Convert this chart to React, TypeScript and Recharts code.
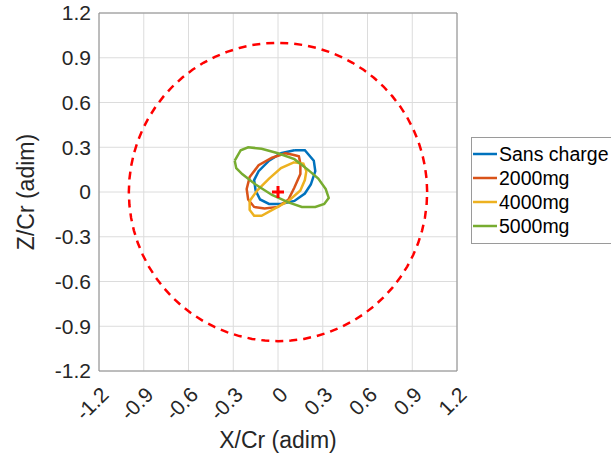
import React from 'react'
import {
  ScatterChart,
  Scatter,
  XAxis,
  YAxis,
  CartesianGrid,
  ReferenceLine,
} from 'recharts'

const FONT = '"Liberation Sans", Arial, Helvetica, sans-serif'

// axes ticks
const xTicks = [-1.2, -0.9, -0.6, -0.3, 0, 0.3, 0.6, 0.9, 1.2]
const yTicks = [-1.2, -0.9, -0.6, -0.3, 0, 0.3, 0.6, 0.9, 1.2]

// orbits (x/Cr, z/Cr), closed loops
const sansCharge = [
  [0.11, 0.28], [0.18, 0.28], [0.24, 0.21], [0.25, 0.14], [0.22, 0.05],
  [0.18, -0.01], [0.11, -0.06], [0.02, -0.08], [-0.06, -0.08], [-0.12, -0.05],
  [-0.15, 0.01], [-0.16, 0.08], [-0.13, 0.14], [-0.06, 0.21], [0.02, 0.26],
  [0.11, 0.28],
]
const mg2000 = [
  [0.1, 0.25], [0.14, 0.24], [0.15, 0.19], [0.15, 0.12], [0.11, 0.03],
  [0.07, -0.05], [0.0, -0.1], [-0.09, -0.11], [-0.16, -0.1], [-0.2, -0.05],
  [-0.21, 0.02], [-0.19, 0.1], [-0.13, 0.18], [-0.04, 0.23], [0.05, 0.26],
  [0.1, 0.25],
]
const mg4000 = [
  [0.11, 0.2], [0.17, 0.19], [0.19, 0.14], [0.18, 0.08], [0.15, 0.01],
  [0.07, -0.06], [-0.02, -0.11], [-0.11, -0.16], [-0.16, -0.16], [-0.19, -0.12],
  [-0.19, -0.06], [-0.14, 0.01], [-0.06, 0.09], [0.02, 0.16], [0.11, 0.2],
]
const mg5000 = [
  [-0.29, 0.21], [-0.25, 0.28], [-0.2, 0.3], [-0.11, 0.29], [0.0, 0.26],
  [0.11, 0.22], [0.2, 0.15], [0.27, 0.09], [0.32, 0.02], [0.34, -0.04],
  [0.31, -0.08], [0.25, -0.1], [0.16, -0.1], [0.07, -0.07], [-0.04, -0.02],
  [-0.15, 0.05], [-0.24, 0.12], [-0.28, 0.16], [-0.29, 0.21],
]

// unit circle (r = Cr) and centre
const circleRadius = 1
const circleAngles = Array.from({ length: 73 }, (_, i) => i * 5)
const centre = [[0, 0]]

const toPts = (arr: number[][]) => arr.map(([x, y]) => ({ x, y }))
const circlePts = circleAngles.map((a) => ({
  x: circleRadius * Math.cos((a * Math.PI) / 180),
  y: circleRadius * Math.sin((a * Math.PI) / 180),
}))

const series = [
  { name: 'Sans charge', color: '#0072BD', data: sansCharge },
  { name: '2000mg', color: '#D95319', data: mg2000 },
  { name: '4000mg', color: '#EDB120', data: mg4000 },
  { name: '5000mg', color: '#77AC30', data: mg5000 },
]

const noDot = () => <g />

const XTick = (props: any) => {
  const { x, y, payload } = props
  return (
    <text
      x={0}
      y={0}
      transform={`translate(${x + 11},${y + 17}) rotate(-45)`}
      textAnchor='end'
      fontSize={21}
      fontFamily={FONT}
      fill='#262626'
    >
      {payload.value}
    </text>
  )
}

const Plus = (props: any) => {
  const { cx, cy } = props
  return (
    <g stroke='#FF0000' strokeWidth={3}>
      <line x1={cx - 6} y1={cy} x2={cx + 6} y2={cy} />
      <line x1={cx} y1={cy - 6} x2={cx} y2={cy + 6} />
    </g>
  )
}

export default function App() {
  return (
    <div
      style={{
        position: 'absolute',
        left: 0,
        top: 0,
        width: 611,
        height: 460,
        overflow: 'hidden',
        background: '#fff',
      }}
    >
      <ScatterChart
        width={611}
        height={460}
        margin={{ top: 13, right: 154, bottom: 0, left: 0 }}
      >
        <CartesianGrid stroke='#dcdcdc' strokeWidth={1} />
        <XAxis
          type='number'
          dataKey='x'
          domain={[-1.2, 1.2]}
          ticks={xTicks}
          allowDataOverflow
          height={89}
          stroke='#8c8c8c'
          tickLine={false}
          tick={<XTick />}
          interval={0}
          label={{
            content: () => (
              <text
                x={278}
                y={448}
                textAnchor='middle'
                fontSize={23}
                fontFamily={FONT}
                fill='#262626'
              >
                X/Cr (adim)
              </text>
            ),
          }}
        />
        <YAxis
          type='number'
          dataKey='y'
          domain={[-1.2, 1.2]}
          ticks={yTicks}
          allowDataOverflow
          width={99}
          stroke='#8c8c8c'
          tickLine={false}
          interval={0}
          tick={{ fontSize: 21, fill: '#262626', fontFamily: FONT }}
          label={{
            content: () => (
              <text
                x={0}
                y={0}
                transform='translate(34,192) rotate(-90)'
                textAnchor='middle'
                fontSize={23}
                fontFamily={FONT}
                fill='#262626'
              >
                Z/Cr (adim)
              </text>
            ),
          }}
        />
        <ReferenceLine y={1.2} stroke='#8c8c8c' />
        <ReferenceLine x={1.2} stroke='#8c8c8c' />
        {series.map((s) => (
          <Scatter
            key={s.name}
            name={s.name}
            data={toPts(s.data)}
            fill={s.color}
            line={{ stroke: s.color, strokeWidth: 2.5 }}
            lineType='joint'
            shape={noDot}
            isAnimationActive={false}
          />
        ))}
        <Scatter
          data={circlePts}
          fill='#FF0000'
          line={{ stroke: '#FF0000', strokeWidth: 2.5, strokeDasharray: '8 6' }}
          lineType='joint'
          shape={noDot}
          isAnimationActive={false}
        />
        <Scatter
          data={toPts(centre)}
          fill='#FF0000'
          shape={<Plus />}
          isAnimationActive={false}
        />
      </ScatterChart>
      <div
        style={{
          position: 'absolute',
          left: 471,
          top: 137,
          width: 160,
          height: 107,
          border: '1px solid #9a9a9a',
          background: '#fff',
          fontFamily: FONT,
          fontSize: 19.5,
          color: '#000',
          paddingTop: 4,
          boxSizing: 'border-box',
        }}
      >
        {series.map((s) => (
          <div
            key={s.name}
            style={{ height: 24, display: 'flex', alignItems: 'center' }}
          >
            <svg width={27} height={24} style={{ flex: 'none' }}>
              <line
                x1={1}
                x2={25}
                y1={12}
                y2={12}
                stroke={s.color}
                strokeWidth={2.5}
              />
            </svg>
            <span style={{ whiteSpace: 'nowrap' }}>{s.name}</span>
          </div>
        ))}
      </div>
    </div>
  )
}
